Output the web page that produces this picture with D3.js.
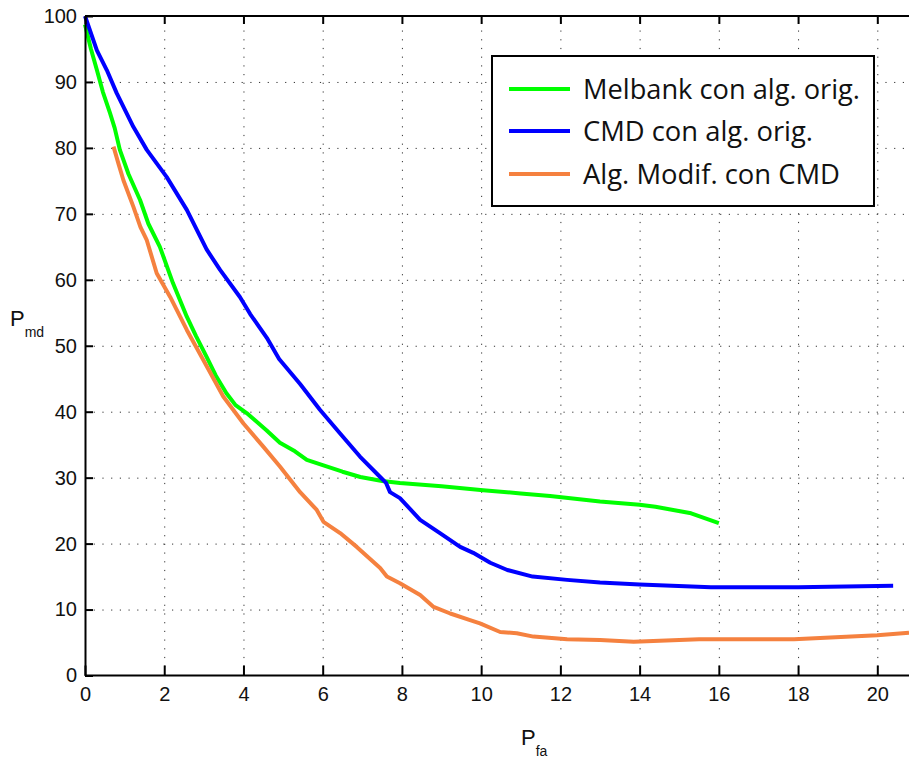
<!DOCTYPE html>
<html>
<head>
<meta charset="utf-8">
<script src="https://cdn.jsdelivr.net/npm/d3@7"></script>
<style>
  body { margin: 0; background: #fff; }
  .tick text { font-family: "Liberation Sans", Arial, sans-serif; font-size: 20px; fill: #111; }
  .grid line { stroke: #333; stroke-width: 1; stroke-dasharray: 1.2,7.5; }
  .grid .domain { display: none; }
</style>
</head>
<body>
<div id="chart"></div>
<script>
var width = 909, height = 758
var margin = {top: 16, left: 85, bottom: 82.5}

// series: [Pfa, Pmd]
var melbank = [[0,98.7],[0.15,95],[0.3,91.8],[0.45,88.5],[0.63,85.3],[0.75,83],[0.88,79.7],[1.1,76],[1.39,72.1],[1.6,68.5],[1.89,65],[2.22,59.5],[2.57,54.4],[2.8,51.5],[3.07,48.3],[3.3,45.5],[3.57,42.8],[3.8,41],[4.08,39.8],[4.58,37.2],[4.92,35.3],[5.3,34],[5.6,32.7],[6.0,31.9],[6.5,30.9],[6.95,30.1],[7.5,29.5],[7.95,29.2],[9,28.7],[10.05,28.1],[11,27.6],[11.74,27.2],[13,26.4],[14,25.9],[14.4,25.6],[15.3,24.6],[16,23.1]]
var cmd = [[0,100],[0.3,94.8],[0.55,91.8],[0.8,88.3],[1.22,83.2],[1.56,79.7],[2.06,75.6],[2.57,70.6],[3.07,64.6],[3.41,61.5],[3.91,57.4],[4.17,54.8],[4.59,51.2],[4.9,48],[5.43,44.2],[5.93,40.3],[6.44,36.7],[6.94,33.2],[7.45,30.1],[7.6,29.2],[7.7,27.8],[7.95,26.9],[8.46,23.6],[8.96,21.6],[9.47,19.5],[9.8,18.6],[10.23,17.1],[10.66,16],[11.3,15],[12.17,14.5],[13,14.1],[14,13.8],[15.8,13.4],[18,13.4],[20.4,13.6]]
var modif = [[0.72,80.2],[0.85,77.5],[0.97,75.1],[1.22,71.1],[1.4,68],[1.56,66],[1.81,61],[2.15,57.4],[2.57,52.4],[2.99,47.8],[3.49,42.3],[4.0,38.2],[4.5,34.7],[4.92,31.7],[5.43,27.8],[5.85,25.1],[6.02,23.3],[6.44,21.6],[6.86,19.5],[7.45,16.3],[7.62,15],[7.95,14],[8.46,12.2],[8.8,10.4],[9.22,9.4],[9.72,8.4],[9.97,7.9],[10.48,6.6],[10.9,6.4],[11.32,5.9],[12.17,5.5],[13,5.4],[13.85,5.1],[15.5,5.5],[17.9,5.5],[20,6.1],[20.8,6.5]]

var seriesNames = ["Melbank con alg. orig.", "CMD con alg. orig.", "Alg. Modif. con CMD"]
var seriesColors = ["#00ff00", "#0000ff", "#f5813f"]
var xTicks = [0,2,4,6,8,10,12,14,16,18,20]
var yTicks = [0,10,20,30,40,50,60,70,80,90,100]

var svg = d3.select("#chart")
  .append("svg")
  .attr("width", width)
  .attr("height", height)

var plotBottom = height - margin.bottom
var plotRight = 930 // axes box runs past the window edge

// Add X scale
var xScale = d3.scaleLinear()
  .domain([0, 20])
  .range([margin.left, 877.3])

// Add Y scale
var yScale = d3.scaleLinear()
  .domain([0, 100])
  .range([plotBottom, margin.top])

// Render grids
svg.append("g")
  .attr("class", "grid")
  .attr("transform", `translate(0,${plotBottom})`)
  .call(d3.axisBottom(xScale).tickValues(xTicks.slice(1)).tickSize(-(plotBottom - margin.top)).tickFormat(""))

svg.append("g")
  .attr("class", "grid")
  .attr("transform", `translate(${margin.left},0)`)
  .call(d3.axisLeft(yScale).tickValues(yTicks.slice(1, -1)).tickSize(-(plotRight - margin.left)).tickFormat(""))

// Render lines
var line = d3.line()
  .x(d => xScale(d[0]))
  .y(d => yScale(d[1]))

var linesG = svg.append("g").attr("class", "lines")
;[melbank, cmd, modif].forEach(function(s, i) {
  linesG.append("path")
    .datum(s)
    .attr("d", line)
    .attr("fill", "none")
    .style("stroke", seriesColors[i])
    .style("stroke-width", 4)
    .style("stroke-linejoin", "round")
})

// Render X axis
svg.append("g")
  .attr("class", "x-axis")
  .attr("transform", `translate(0,${plotBottom})`)
  .call(d3.axisBottom(xScale).tickValues(xTicks).tickSizeInner(-10).tickSizeOuter(0).tickPadding(11))
  .call(g => g.select(".domain").attr("d", `M${margin.left},0H${plotRight}`))
  .selectAll("line, path").style("stroke", "#000").style("stroke-width", 2)

// Render Y axis
svg.append("g")
  .attr("class", "y-axis")
  .attr("transform", `translate(${margin.left},0)`)
  .call(d3.axisLeft(yScale).tickValues(yTicks).tickSizeInner(-8).tickSizeOuter(0).tickPadding(8))
  .selectAll("line, path").style("stroke", "#000").style("stroke-width", 2)

// Top border with ticks
svg.append("g")
  .attr("transform", `translate(0,${margin.top})`)
  .call(d3.axisTop(xScale).tickValues(xTicks).tickSizeInner(-8).tickSizeOuter(0).tickFormat(""))
  .call(g => g.select(".domain").attr("d", `M${margin.left},0H${plotRight}`))
  .selectAll("line, path").style("stroke", "#000").style("stroke-width", 2)

// Axis labels
var yLab = svg.append("text")
  .attr("x", 10)
  .attr("y", 326)
  .style("font-family", "Liberation Sans, Arial, sans-serif")
  .style("font-size", "22px")
  .style("fill", "#111")
yLab.append("tspan").text("P")
yLab.append("tspan").attr("dy", 11).style("font-size", "14px").text("md")

var xLab = svg.append("text")
  .attr("x", 521)
  .attr("y", 745)
  .style("font-family", "Liberation Sans, Arial, sans-serif")
  .style("font-size", "22px")
  .style("fill", "#111")
xLab.append("tspan").text("P")
xLab.append("tspan").attr("dy", 11).style("font-size", "14px").text("fa")

// Legend
var legend = svg.append("g").attr("class", "legend")
legend.append("rect")
  .attr("x", 492)
  .attr("y", 56)
  .attr("width", 382)
  .attr("height", 150)
  .attr("fill", "#fff")
  .attr("stroke", "#000")
  .attr("stroke-width", 2)

var legendY = [89, 131, 174]
var legendW = [277, 230, 257]
seriesNames.forEach(function(name, i) {
  legend.append("line")
    .attr("x1", 509).attr("x2", 570)
    .attr("y1", legendY[i]).attr("y2", legendY[i])
    .style("stroke", seriesColors[i])
    .style("stroke-width", 4)
  legend.append("text")
    .text(name)
    .attr("x", 583)
    .attr("y", legendY[i] + 10)
    .attr("textLength", legendW[i])
    .attr("lengthAdjust", "spacingAndGlyphs")
    .style("font-family", "Open Sans, sans-serif")
    .style("font-size", "27px")
    .style("fill", "#111")
})
</script>
</body>
</html>
